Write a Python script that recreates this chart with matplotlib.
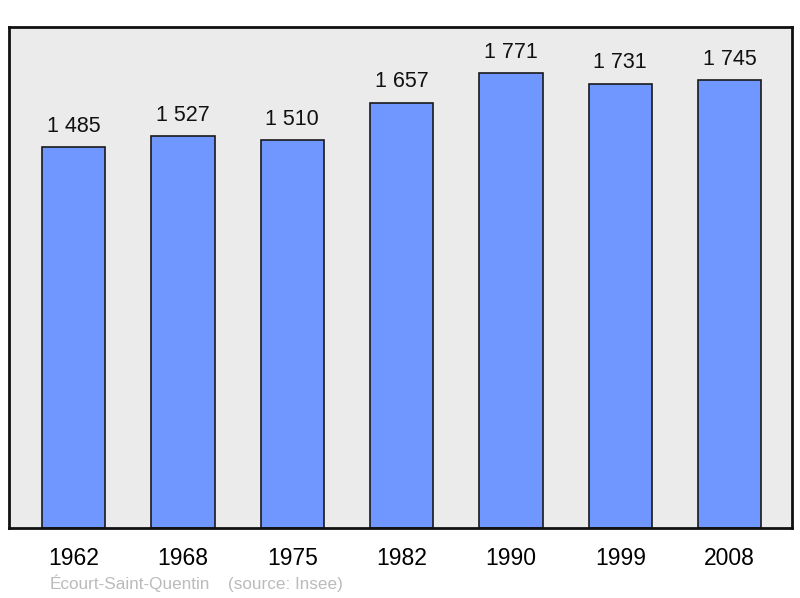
import matplotlib
matplotlib.use('Agg')
import matplotlib.pyplot as plt

years = ['1962', '1968', '1975', '1982', '1990', '1999', '2008']
population = [1485, 1527, 1510, 1657, 1771, 1731, 1745]
labels = ['1 485', '1 527', '1 510', '1 657', '1 771', '1 731', '1 745']

plt.rcParams['font.family'] = ['Liberation Sans', 'DejaVu Sans']

fig = plt.figure(figsize=(8, 5.98), dpi=100)
ax = fig.add_axes([9/800, 1 - 528/598, 783/800, 501/598])
ax.set_facecolor('#ebebeb')

x = range(len(years))
ax.bar(x, population, width=0.58, color='#7096ff', edgecolor='#1a1a1a', linewidth=1.2, zorder=2)
for i, v in enumerate(population):
    ax.annotate(labels[i], (i, v), xytext=(0, 11), textcoords='offset points',
                ha='center', va='baseline', fontsize=15.5, color='#111111')

ax.set_xlim(-0.59, 6.57)
ax.set_ylim(0, 1952)
ax.set_yticks([])
ax.set_xticks(list(x))
ax.set_xticklabels(years, fontsize=16.5)
ax.tick_params(axis='x', length=0, pad=14)
for s in ax.spines.values():
    s.set_linewidth(2)
    s.set_color('#111111')

# footer
fig.text(50/800, 1 - 589/598, 'Écourt-Saint-Quentin', fontsize=12.3, color='#bbbbbb', va='baseline')
fig.text(228/800, 1 - 589/598, '(source: Insee)', fontsize=12.3, color='#bbbbbb', va='baseline')

fig.savefig('out.png', dpi=100)
